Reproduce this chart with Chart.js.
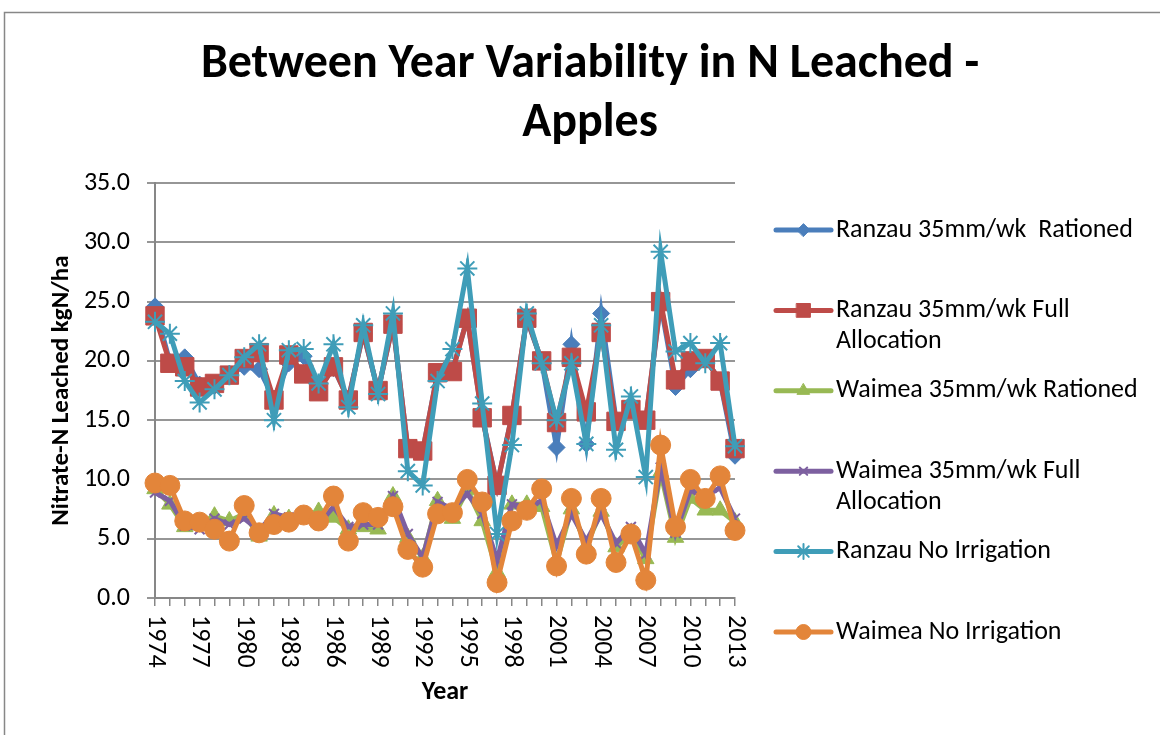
<!DOCTYPE html>
<html>
<head>
<meta charset="utf-8">
<script src="https://cdn.jsdelivr.net/npm/chart.js@4.4.1/dist/chart.umd.min.js"></script>
<style>
  html, body { margin: 0; padding: 0; background: #fff; }
  #wrap { width: 1160px; height: 735px; }
</style>
</head>
<body>
<div id="wrap"><canvas id="c" width="1160" height="735"></canvas></div>
<script>
// ---------- DATA ----------
const chartTitle = ['Between Year Variability in N Leached -', 'Apples'];
const yAxisTitle = 'Nitrate-N Leached kgN/ha';
const xAxisTitle = 'Year';
const years = ['1974','1975','1976','1977','1978','1979','1980','1981','1982','1983',
               '1984','1985','1986','1987','1988','1989','1990','1991','1992','1993',
               '1994','1995','1996','1997','1998','1999','2000','2001','2002','2003',
               '2004','2005','2006','2007','2008','2009','2010','2011','2012','2013'];
const seriesNames = ['Ranzau 35mm/wk  Rationed', 'Ranzau 35mm/wk Full Allocation',
                     'Waimea 35mm/wk Rationed', 'Waimea 35mm/wk Full Allocation',
                     'Ranzau No Irrigation', 'Waimea No Irrigation'];
const ranzauRationed = [24.6, 19.9, 20.3, 18.0, 17.9, 18.9, 19.5, 19.3, 16.8, 19.8,
                        20.4, 17.6, 19.4, 16.8, 22.3, 17.5, 23.1, 12.6, 12.4, 19.0,
                        19.2, 23.6, 15.3, 9.5, 15.4, 23.5, 20.0, 12.7, 21.4, 13.0,
                        24.0, 15.0, 16.0, 15.0, 24.8, 17.8, 19.3, 20.2, 18.3, 12.0];
const ranzauFull = [23.8, 19.8, 19.5, 17.8, 18.1, 18.8, 20.2, 20.7, 16.7, 20.5,
                    18.9, 17.4, 19.5, 16.7, 22.4, 17.5, 23.1, 12.6, 12.4, 19.0,
                    19.1, 23.6, 15.2, 9.5, 15.4, 23.6, 20.0, 14.8, 20.3, 15.7,
                    22.4, 14.9, 15.9, 15.0, 25.0, 18.4, 20.0, 20.2, 18.3, 12.6];
const waimeaRationed = [9.2, 7.9, 6.0, 6.2, 6.9, 6.5, 7.1, 5.2, 7.0, 6.7,
                        6.7, 7.3, 6.8, 5.8, 6.0, 5.8, 8.6, 5.1, 3.4, 8.2,
                        6.7, 9.1, 6.5, 2.2, 7.9, 7.9, 7.7, 3.0, 7.5, 4.4,
                        7.3, 4.3, 5.4, 3.3, 10.6, 5.1, 8.4, 7.4, 7.4, 6.4];
const waimeaFull = [8.9, 8.2, 6.1, 5.8, 6.7, 6.2, 6.7, 5.7, 7.1, 6.8,
                    6.7, 6.2, 7.7, 6.0, 6.2, 6.2, 8.6, 5.4, 3.4, 8.1,
                    7.5, 8.8, 7.1, 3.2, 7.9, 7.7, 8.2, 4.4, 7.1, 4.8,
                    7.1, 4.6, 6.0, 3.7, 11.0, 5.5, 9.1, 8.6, 9.3, 6.7];
const ranzauNoIrr = [23.3, 22.3, 18.3, 16.5, 17.6, 18.8, 20.3, 21.4, 15.0, 20.9,
                     21.0, 18.1, 21.4, 16.1, 23.0, 17.2, 24.0, 10.7, 9.5, 18.3,
                     21.0, 27.8, 16.4, 5.4, 12.9, 24.0, 19.8, 15.0, 19.8, 13.0,
                     23.0, 12.5, 17.0, 10.2, 29.2, 20.8, 21.5, 19.8, 21.5, 12.8];
const waimeaNoIrr = [9.7, 9.5, 6.5, 6.4, 5.8, 4.8, 7.8, 5.5, 6.2, 6.4,
                     7.0, 6.5, 8.6, 4.8, 7.2, 6.8, 7.7, 4.1, 2.6, 7.1,
                     7.2, 10.0, 8.1, 1.3, 6.5, 7.4, 9.2, 2.7, 8.4, 3.7,
                     8.4, 3.0, 5.4, 1.5, 12.9, 6.0, 10.0, 8.4, 10.3, 5.7];
const yMin = 0, yMax = 35, yStep = 5;

// ---------- STYLE ----------
const FONT = 'Carlito, Lato, "Open Sans", sans-serif';
const colors = ['#4A7EBB', '#BE4B48', '#98B954', '#7D60A0', '#3F9DB8', '#E3853A'];
const pStyles = ['rectRot', 'rect', 'triangle', 'crossRot', 'star', 'circle'];
const pRadius = [8.5, 13, 9.5, 7, 10, 10];
const pBorder = [1, 1, 1, 2, 2, 1];
const allSeries = [ranzauRationed, ranzauFull, waimeaRationed, waimeaFull, ranzauNoIrr, waimeaNoIrr];

const datasets = allSeries.map((d, i) => ({
  label: seriesNames[i],
  data: d,
  borderColor: colors[i],
  backgroundColor: colors[i],
  borderWidth: 5,
  pointStyle: pStyles[i],
  pointRadius: pRadius[i],
  pointHoverRadius: pRadius[i],
  pointBorderWidth: pBorder[i],
  pointBackgroundColor: colors[i],
  pointBorderColor: colors[i],
  tension: 0,
  clip: false,
  order: allSeries.length - i
}));

const framePlugin = {
  id: 'frame',
  beforeDraw(chart) {
    const ctx = chart.ctx;
    ctx.save();
    ctx.fillStyle = '#fff';
    ctx.fillRect(0, 0, chart.width, chart.height);
    ctx.strokeStyle = '#878787';
    ctx.lineWidth = 1.5;
    ctx.strokeRect(4.5, 12.5, 1400, 1000);
    ctx.restore();
  },
  afterDraw(chart) {
    const ctx = chart.ctx;
    // rotated x tick labels (clockwise, reading top to bottom)
    const xs = chart.scales.x;
    ctx.save();
    ctx.font = '26px ' + FONT;
    ctx.fillStyle = '#000';
    ctx.textAlign = 'left';
    ctx.textBaseline = 'middle';
    xs.ticks.forEach((t, i) => {
      if (!t.label) return;
      const x = xs.getPixelForTick(i);
      ctx.save();
      ctx.translate(x, xs.top + 17);
      ctx.rotate(Math.PI / 2);
      ctx.fillText(t.label, 0, 0);
      ctx.restore();
    });
    ctx.restore();

    // legend
    ctx.save();
    const lx0 = 776, lx1 = 831, tx = 836, y0 = 230, step = 80.4, lh = 31, maxW = 320;
    ctx.font = '26px ' + FONT;
    ctx.textBaseline = 'middle';
    ctx.textAlign = 'left';
    chart.data.datasets.forEach((ds, i) => {
      const y = y0 + i * step;
      ctx.strokeStyle = ds.borderColor;
      ctx.lineWidth = 5;
      ctx.lineCap = 'round';
      ctx.beginPath();
      ctx.moveTo(lx0, y);
      ctx.lineTo(lx1, y);
      ctx.stroke();
      ctx.fillStyle = ds.borderColor;
      ctx.strokeStyle = ds.borderColor;
      ctx.lineWidth = ds.pointBorderWidth;
      if (Chart.helpers && Chart.helpers.drawPoint) {
        Chart.helpers.drawPoint(ctx, {pointStyle: ds.pointStyle, radius: ds.pointRadius * 0.75,
          borderWidth: ds.pointBorderWidth, rotation: 0}, (lx0 + lx1) / 2, y);
      }
      // wrap text
      const words = ds.label.split(' ');
      const lines = [];
      let cur = '';
      words.forEach(w => {
        const test = cur === '' ? w : cur + ' ' + w;
        if (ctx.measureText(test).width > maxW && cur !== '') { lines.push(cur); cur = w; }
        else cur = test;
      });
      if (cur) lines.push(cur);
      ctx.fillStyle = '#000';
      lines.forEach((ln, k) => ctx.fillText(ln, tx, y + k * lh));
    });
    ctx.restore();
  }
};

new Chart(document.getElementById('c'), {
  type: 'line',
  data: { labels: years, datasets },
  plugins: [framePlugin],
  options: {
    responsive: false,
    animation: false,
    layout: { padding: { left: 20, right: 0, top: 0, bottom: 0 } },
    plugins: {
      legend: { display: false },
      tooltip: { enabled: false },
      title: {
        display: true,
        text: chartTitle,
        color: '#000',
        font: { family: FONT, size: 48, weight: 'bold', lineHeight: 1.23 },
        padding: { top: 35.5, bottom: 29.5 }
      }
    },
    scales: {
      x: {
        type: 'category',
        offset: false,
        grid: { drawOnChartArea: false, drawTicks: true, tickLength: 8, color: '#878787', lineWidth: 1.5 },
        border: { display: true, color: '#878787', width: 2 },
        ticks: {
          autoSkip: false,
          minRotation: 90,
          maxRotation: 90,
          color: 'rgba(0,0,0,0)',
          font: { family: FONT, size: 26 },
          callback: function (v, i) { return i % 3 === 0 ? this.getLabelForValue(v) : ''; }
        },
        title: {
          display: true,
          text: xAxisTitle,
          color: '#000',
          font: { family: FONT, size: 26, weight: 'bold', lineHeight: 1.2 },
          padding: { top: 0, bottom: 27.4 }
        },
        afterFit: s => { s.height = 137; }
      },
      y: {
        min: yMin,
        max: yMax,
        grid: { color: '#969696', lineWidth: 2, drawTicks: true, tickLength: 8 },
        border: { display: true, color: '#878787', width: 2 },
        ticks: {
          stepSize: yStep,
          padding: 17,
          color: '#000',
          font: { family: FONT, size: 26 },
          callback: v => Number(v).toFixed(1)
        },
        title: {
          display: true,
          text: yAxisTitle,
          color: '#000',
          font: { family: FONT, size: 25, weight: 'bold', lineHeight: 1.2 },
          padding: { top: 27, bottom: 0 }
        },
        afterFit: s => { s.width = 135; }
      },
      spacer: {
        type: 'linear',
        position: 'right',
        display: true,
        grid: { display: false },
        border: { display: false },
        ticks: { display: false },
        afterFit: s => { s.width = 425; }
      }
    }
  }
});
</script>
</body>
</html>
